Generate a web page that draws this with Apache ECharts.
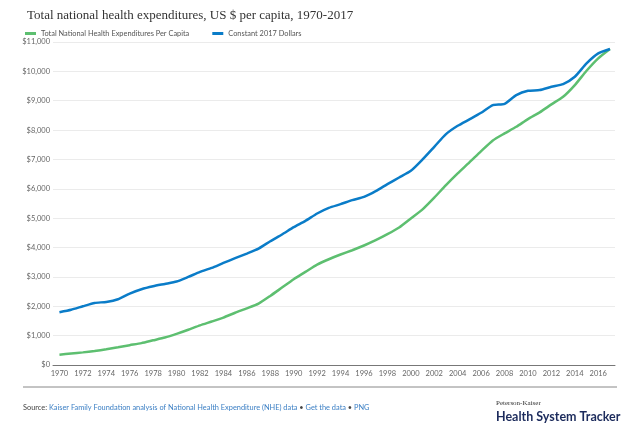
<!DOCTYPE html>
<html>
<head>
<meta charset="utf-8">
<script src="https://cdn.jsdelivr.net/npm/echarts@6/dist/echarts.min.js"></script>
<style>
html,body{margin:0;padding:0;background:#fff;}
#chart{width:638px;height:432px;}
</style>
</head>
<body>
<div id="chart"></div>
<script>
var years = [1970,1971,1972,1973,1974,1975,1976,1977,1978,1979,1980,1981,1982,1983,1984,1985,1986,1987,1988,1989,1990,1991,1992,1993,1994,1995,1996,1997,1998,1999,2000,2001,2002,2003,2004,2005,2006,2007,2008,2009,2010,2011,2012,2013,2014,2015,2016,2017];
var nhePerCapita = [350,390,430,478,535,603,675,745,840,935,1060,1200,1350,1480,1615,1780,1930,2092,2353,2637,2921,3170,3421,3602,3762,3909,4069,4250,4455,4683,4990,5300,5700,6125,6523,6898,7283,7648,7887,8112,8374,8603,8875,9134,9533,10020,10443,10760];
var constant2017 = [1796,1880,2000,2114,2148,2239,2432,2580,2682,2761,2842,3000,3170,3306,3477,3637,3796,3966,4216,4444,4693,4908,5160,5351,5477,5614,5726,5920,6159,6386,6612,7000,7430,7863,8146,8364,8589,8851,8896,9192,9339,9362,9475,9567,9816,10272,10613,10760];
var xLabels = [1970,1972,1974,1976,1978,1980,1982,1984,1986,1988,1990,1992,1994,1996,1998,2000,2002,2004,2006,2008,2010,2012,2014,2016];
var seriesNames = ['Total National Health Expenditures Per Capita','Constant 2017 Dollars'];

function pairs(vals){ return years.map(function(y,i){ return [y, vals[i]]; }); }

var chart = echarts.init(document.getElementById('chart'), null, {renderer:'canvas'});
chart.setOption({
  animation:false,
  backgroundColor:'#fff',
  title:{
    text:'Total national health expenditures, US $ per capita, 1970-2017',
    left:22, top:4,
    textStyle:{fontFamily:'Liberation Serif', fontSize:13, fontWeight:'normal', color:'#333'}
  },
  legend:{
    left:20, top:25,
    itemWidth:11, itemHeight:3, itemGap:23,
    icon:'rect',
    textStyle:{fontFamily:'Lato', fontSize:7.4, color:'#555'},
    data:seriesNames
  },
  grid:{left:53, right:23, top:42, bottom:67, containLabel:false},
  xAxis:{
    type:'value', min:1969.45, max:2017.43,
    axisLine:{show:true, lineStyle:{color:'#777', width:1}},
    axisTick:{show:false},
    splitLine:{show:false},
    axisLabel:{customValues:xLabels, fontFamily:'Lato', fontSize:7.5, color:'#666', margin:5, formatter:function(v){return String(v);}}
  },
  yAxis:{
    type:'value', min:0, max:11000, interval:1000,
    axisLine:{show:false}, axisTick:{show:false},
    splitLine:{lineStyle:{color:'#ebebeb', width:1}},
    axisLabel:{fontFamily:'Lato', fontSize:7.5, color:'#666', margin:3,
      formatter:function(v){ return '$' + v.toLocaleString('en-US'); }}
  },
  series:[
    {name:seriesNames[0], type:'line', data:pairs(nhePerCapita), showSymbol:false, smooth:0.2,
     lineStyle:{color:'#5dbf70', width:2.5}, itemStyle:{color:'#5dbf70'}},
    {name:seriesNames[1], type:'line', data:pairs(constant2017), showSymbol:false, smooth:0.2,
     lineStyle:{color:'#0a7cc8', width:2.5}, itemStyle:{color:'#0a7cc8'}}
  ],
  graphic:[
    {type:'line', shape:{x1:23, y1:387, x2:617, y2:387}, style:{stroke:'#888', lineWidth:1}},
    {type:'text', left:23, top:404, style:{
      text:'{a|Source: }{b|Kaiser Family Foundation analysis of National Health Expenditure (NHE) data}{a| • }{b|Get the data}{a| • }{b|PNG}',
      rich:{a:{fill:'#444', fontFamily:'Lato', fontSize:7.4}, b:{fill:'#3b7fc4', fontFamily:'Lato', fontSize:7.4}}
    }},
    {type:'text', left:496, top:400, style:{text:'Peterson-Kaiser', fill:'#333', fontFamily:'Liberation Serif', fontSize:7}},
    {type:'text', left:496, top:410, style:{text:'Health System Tracker', fill:'#1c2b5c', fontFamily:'Lato', fontWeight:'bold', fontSize:12.5}}
  ]
});
</script>
</body>
</html>
